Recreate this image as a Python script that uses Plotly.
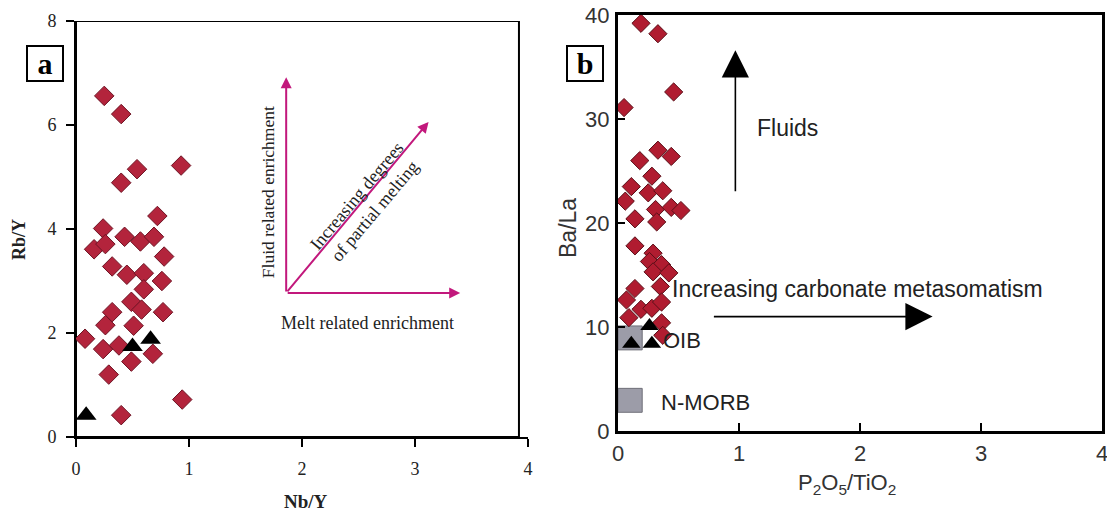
import plotly.graph_objects as go

# ---------------- Panel a data (Nb/Y vs Rb/Y) ----------------
a_dia_x = [0.25, 0.40, 0.54, 0.40, 0.93, 0.72, 0.24, 0.43, 0.57, 0.69, 0.16, 0.26,
           0.78, 0.32, 0.45, 0.60, 0.76, 0.60, 0.49, 0.58, 0.32, 0.77, 0.26, 0.51,
           0.08, 0.24, 0.38, 0.49, 0.68, 0.29, 0.94, 0.40]
a_dia_y = [6.56, 6.21, 5.15, 4.89, 5.22, 4.25, 4.01, 3.85, 3.76, 3.85, 3.61, 3.71,
           3.47, 3.28, 3.12, 3.15, 3.00, 2.84, 2.60, 2.45, 2.40, 2.40, 2.15, 2.14,
           1.89, 1.69, 1.76, 1.45, 1.60, 1.20, 0.72, 0.42]
a_tri_x = [0.09, 0.50, 0.66]
a_tri_y = [0.42, 1.74, 1.88]
a_xticks = [0, 1, 2, 3, 4]
a_yticks = [0, 2, 4, 6, 8]

# ---------------- Panel b data (P2O5/TiO2 vs Ba/La) ----------------
b_dia_x = [0.19, 0.33, 0.46, 0.05, 0.33, 0.44, 0.18, 0.28, 0.11, 0.25, 0.37, 0.06,
           0.31, 0.44, 0.52, 0.14, 0.32, 0.14, 0.29, 0.26, 0.36, 0.29, 0.42, 0.14,
           0.35, 0.07, 0.19, 0.28, 0.36, 0.09, 0.36, 0.37]
b_dia_y = [39.2, 38.2, 32.6, 31.1, 27.0, 26.4, 26.0, 24.5, 23.5, 22.9, 23.1, 22.1,
           21.3, 21.5, 21.2, 20.4, 20.1, 17.8, 17.1, 16.3, 16.0, 15.3, 15.2, 13.7,
           13.9, 12.6, 11.7, 11.8, 12.4, 10.9, 10.4, 9.2]
b_tri_x = [0.26, 0.11, 0.28]
b_tri_y = [10.1, 8.4, 8.4]
b_fields = ["OIB", "N-MORB"]
b_field_x0 = [0.0, 0.0]
b_field_x1 = [0.20, 0.20]
b_field_y0 = [7.8, 1.8]
b_field_y1 = [10.1, 4.1]
b_xticks = [0, 1, 2, 3, 4]
b_yticks = [0, 10, 20, 30, 40]

W, H = 1107, 518
SERIF = "Liberation Serif, Times New Roman, serif"
SANS = "Liberation Sans, Arial, sans-serif"
MAG = "#c2187c"

fig = go.Figure()

fig.add_trace(go.Scatter(x=a_dia_x, y=a_dia_y, mode="markers", xaxis="x", yaxis="y",
                         marker=dict(symbol="diamond", size=15, color="#b3243c",
                                     line=dict(color="#6e1424", width=1))))
fig.add_trace(go.Scatter(x=a_tri_x, y=a_tri_y, mode="markers", xaxis="x", yaxis="y",
                         marker=dict(symbol="triangle-up", size=18, color="black")))
fig.add_trace(go.Scatter(x=b_dia_x, y=b_dia_y, mode="markers", xaxis="x2", yaxis="y2",
                         marker=dict(symbol="diamond", size=14, color="#b01c30",
                                     line=dict(color="#5a0f18", width=1))))
fig.add_trace(go.Scatter(x=b_tri_x, y=b_tri_y, mode="markers", xaxis="x2", yaxis="y2",
                         marker=dict(symbol="triangle-up", size=16, color="black")))

shapes = []
# frame panel a
shapes.append(dict(type="rect", xref="x", yref="y", x0=0, x1=3.92, y0=0, y1=8,
                   line=dict(color="black", width=2), layer="below"))
# grey fields panel b
for i in range(len(b_fields)):
    shapes.append(dict(type="rect", xref="x2", yref="y2",
                       x0=b_field_x0[i], x1=b_field_x1[i], y0=b_field_y0[i], y1=b_field_y1[i],
                       fillcolor="#9c9ca8", line=dict(color="#6f6f78", width=1), layer="below"))

ann = []


def txt(text, xref, yref, x, y, font, angle=0, **kw):
    d = dict(text=text, xref=xref, yref=yref, x=x, y=y, showarrow=False, textangle=angle,
             xanchor="center", yanchor="middle", font=font)
    d.update(kw)
    ann.append(d)


# panel labels
for lab, cx in [("a", 45), ("b", 585)]:
    txt("<b>%s</b>" % lab, "paper", "paper", cx / W, 1 - 64 / H,
        dict(family=SERIF, size=30, color="black"),
        bordercolor="black", borderwidth=2, borderpad=1, width=32, height=31, bgcolor="white")

# axis titles
txt("<b>Rb/Y</b>", "paper", "paper", 19 / W, 1 - 240 / H,
    dict(family=SERIF, size=18, color="#222"), angle=-90)
txt("<b>Nb/Y</b>", "paper", "paper", 306 / W, 1 - 501 / H,
    dict(family=SERIF, size=19, color="#222"))
txt("Ba/La", "paper", "paper", 568 / W, 1 - 228 / H,
    dict(family=SANS, size=23, color="#333"), angle=-90)
txt("P<sub>2</sub>O<sub>5</sub>/TiO<sub>2</sub>", "paper", "paper", 847 / W, 1 - 484 / H,
    dict(family=SANS, size=22, color="#333"))

# panel a arrows
for tx, ty in [(1.86, 6.92), (3.40, 2.77), (3.12, 6.06)]:
    ann.append(dict(xref="x", yref="y", axref="x", ayref="y", x=tx, y=ty, ax=1.86, ay=2.77,
                    text="", showarrow=True, arrowhead=2, arrowsize=1.1, arrowwidth=2,
                    arrowcolor=MAG))
txt("Fluid related enrichment", "x", "y", 1.70, 4.71,
    dict(family=SERIF, size=17.5, color="#222"), angle=-90)
txt("Melt related enrichment", "x", "y", 2.58, 2.19,
    dict(family=SERIF, size=18, color="#222"))
txt("Increasing degrees<br>of partial melting", "x", "y", 2.56, 4.50,
    dict(family=SERIF, size=18, color="#222"), angle=-50)

# panel b arrows and labels
ann.append(dict(xref="x2", yref="y2", axref="x2", ayref="y2", x=0.97, y=36.6, ax=0.97, ay=22.9,
                text="", showarrow=True, arrowhead=2, arrowsize=3.4, arrowwidth=1.6,
                arrowcolor="black"))
ann.append(dict(xref="x2", yref="y2", axref="x2", ayref="y2", x=2.60, y=11.0, ax=0.78, ay=11.0,
                text="", showarrow=True, arrowhead=2, arrowsize=3.4, arrowwidth=1.6,
                arrowcolor="black"))
txt("Fluids", "x2", "y2", 1.40, 29.1, dict(family=SANS, size=23, color="#222"))
txt("Increasing carbonate metasomatism", "x2", "y2", 1.98, 13.7,
    dict(family=SANS, size=23, color="#222"))
txt(b_fields[0], "x2", "y2", 0.53, 8.75, dict(family=SANS, size=22, color="#222"))
txt(b_fields[1], "x2", "y2", 0.72, 2.7, dict(family=SANS, size=22, color="#222"))

common = dict(showgrid=False, zeroline=False, automargin=False, linecolor="black",
              ticklabeloverflow="allow")

fig.update_layout(
    width=W, height=H, margin=dict(l=0, r=0, t=0, b=0),
    paper_bgcolor="white", plot_bgcolor="rgba(0,0,0,0)", showlegend=False,
    shapes=shapes, annotations=ann,
    xaxis=dict(domain=[76 / W, 528 / W], range=[0, 4], tickvals=a_xticks, anchor="y",
               ticks="outside", ticklen=8, tickwidth=2, tickcolor="black",
               showline=True, linewidth=2, ticklabelstandoff=6,
               tickfont=dict(family=SERIF, size=18, color="#222"), **common),
    yaxis=dict(domain=[1 - 437 / H, 1 - 21 / H], range=[0, 8], tickvals=a_yticks, anchor="x",
               ticks="outside", ticklen=8, tickwidth=2, tickcolor="black",
               showline=True, linewidth=2, ticklabelstandoff=6,
               tickfont=dict(family=SERIF, size=18, color="#222"), **common),
    xaxis2=dict(domain=[618 / W, 1102 / W], range=[0, 4], tickvals=b_xticks, anchor="y2",
                ticks="inside", ticklen=8, tickwidth=1.5, tickcolor="black",
                showline=True, linewidth=3, mirror=True, ticklabelstandoff=1,
                tickfont=dict(family=SANS, size=22, color="#333"), **common),
    yaxis2=dict(domain=[1 - 431 / H, 1 - 15 / H], range=[0, 40], tickvals=b_yticks, anchor="x2",
                ticks="inside", ticklen=7, tickwidth=1.5, tickcolor="black",
                showline=True, linewidth=3, mirror=True, ticklabelstandoff=1,
                tickfont=dict(family=SANS, size=22, color="#333"), **common),
)

fig.write_html("out.html", config={"displayModeBar": False},
               post_script="document.body.style.margin='0';document.body.style.padding='0';")
